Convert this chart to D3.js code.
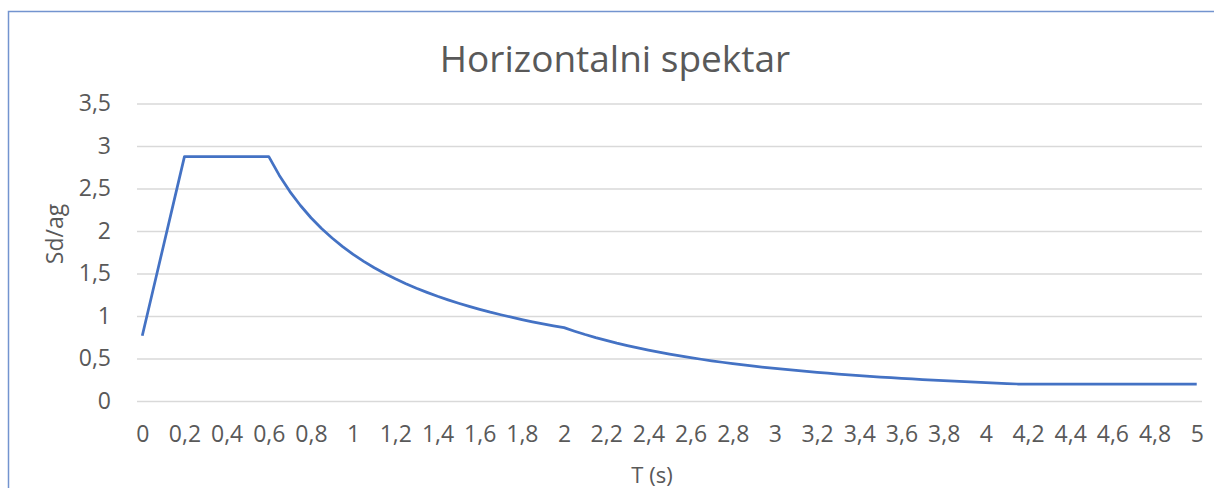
<!DOCTYPE html>
<html><head><meta charset="utf-8">
<script src="https://cdn.jsdelivr.net/npm/d3@7"></script>
<style>
html,body{margin:0;padding:0;background:#fff;}
svg{display:block;font-family:"Open Sans",sans-serif;}
</style></head>
<body><svg id="c" width="1214" height="488"></svg>
<script>
const title = "Horizontalni spektar";
const xTitle = "T (s)";
const yTitle = "Sd/ag";
const periods = [0,0.05,0.1,0.15,0.2,0.25,0.3,0.35,0.4,0.45,0.5,0.55,0.6,0.65,0.7,0.75,0.8,0.85,0.9,0.95,
 1,1.05,1.1,1.15,1.2,1.25,1.3,1.35,1.4,1.45,1.5,1.55,1.6,1.65,1.7,1.75,1.8,1.85,1.9,1.95,
 2,2.05,2.1,2.15,2.2,2.25,2.3,2.35,2.4,2.45,2.5,2.55,2.6,2.65,2.7,2.75,2.8,2.85,2.9,2.95,
 3,3.05,3.1,3.15,3.2,3.25,3.3,3.35,3.4,3.45,3.5,3.55,3.6,3.65,3.7,3.75,3.8,3.85,3.9,3.95,
 4,4.05,4.1,4.15,4.2,4.25,4.3,4.35,4.4,4.45,4.5,4.55,4.6,4.65,4.7,4.75,4.8,4.85,4.9,4.95,5];
const sdag = [0.767,1.294,1.821,2.348,2.875,2.875,2.875,2.875,2.875,2.875,2.875,2.875,2.875,2.654,2.464,2.3,2.156,2.029,1.917,1.816,
 1.725,1.643,1.568,1.5,1.438,1.38,1.327,1.278,1.232,1.19,1.15,1.113,1.078,1.045,1.015,0.986,0.958,0.932,0.908,0.885,
 0.863,0.821,0.782,0.746,0.713,0.681,0.652,0.625,0.599,0.575,0.552,0.531,0.51,0.491,0.473,0.456,0.44,0.425,0.41,0.396,
 0.383,0.371,0.359,0.348,0.337,0.327,0.317,0.307,0.298,0.29,0.282,0.274,0.266,0.259,0.252,0.245,0.239,0.233,0.227,0.221,
 0.216,0.21,0.205,0.2,0.2,0.2,0.2,0.2,0.2,0.2,0.2,0.2,0.2,0.2,0.2,0.2,0.2,0.2,0.2,0.2,0.2];
const xTicks = [0,0.2,0.4,0.6,0.8,1,1.2,1.4,1.6,1.8,2,2.2,2.4,2.6,2.8,3,3.2,3.4,3.6,3.8,4,4.2,4.4,4.6,4.8,5];
const yTicks = [0,0.5,1,1.5,2,2.5,3,3.5];

const svg = d3.select("#c");
const fmt = v => String(v).replace(".", ",");
const plotL = 137, plotR = 1202;
const x = d3.scaleLinear().domain([-0.025, 5.025]).range([plotL, plotR]);
const y = d3.scaleLinear().domain([0, 3.5]).range([401, 103.5]);
const txt = "#595959";
const ff = "'Open Sans',sans-serif";

// frame border
svg.append("path").attr("d", "M8.5,488 V11.5 H1214").attr("fill","none").attr("stroke","#7394cf").attr("stroke-width",1.5);

// gridlines + y labels
const yAxis = d3.axisLeft(y).tickValues(yTicks).tickSize(-(plotR-plotL)).tickFormat(fmt).tickPadding(26);
const gy = svg.append("g").attr("transform", `translate(${plotL},0)`).call(yAxis)
  .attr("font-size", 23).attr("font-family", ff);
gy.select(".domain").remove();
gy.selectAll(".tick line").attr("stroke","#d9d9d9").attr("stroke-width",1.5);
gy.selectAll(".tick text").attr("fill",txt);

const xAxis = d3.axisBottom(x).tickValues(xTicks).tickSize(0).tickFormat(fmt).tickPadding(25);
const gx = svg.append("g").attr("transform", `translate(0,${y(0)})`).call(xAxis)
  .attr("font-size", 23).attr("font-family", ff);
gx.select(".domain").remove();
gx.selectAll(".tick text").attr("fill",txt);

// line
const line = d3.line().x((d,i)=>x(periods[i])).y(d=>y(d));
svg.append("path").datum(sdag).attr("d", line).attr("fill","none").attr("stroke","#4472c4").attr("stroke-width",2.75).attr("stroke-linejoin","round");

// titles
svg.append("text").attr("x", 615).attr("y", 72).attr("text-anchor","middle").attr("fill",txt).attr("font-size",37).text(title);
svg.append("text").attr("transform","translate(63,234) rotate(-90)").attr("text-anchor","middle").attr("fill",txt).attr("font-size",23).text(yTitle);
svg.append("text").attr("x", 652).attr("y", 483).attr("text-anchor","middle").attr("fill",txt).attr("font-size",22).text(xTitle);
</script></body></html>
